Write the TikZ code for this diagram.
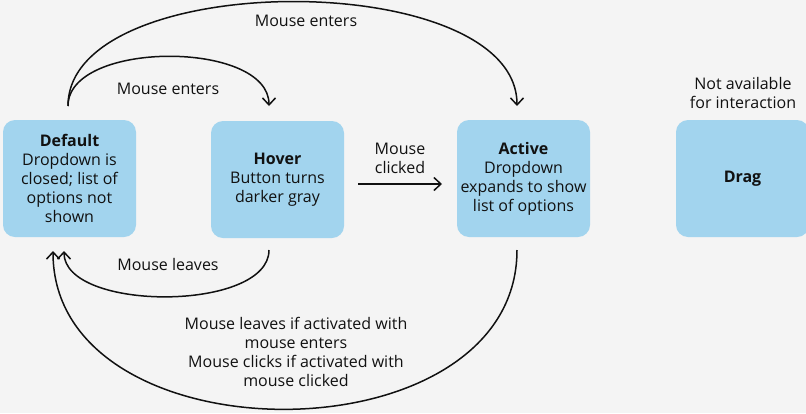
\documentclass[tikz,border=0pt]{standalone}
\usepackage{fontspec}
\setmainfont{Open Sans}
\usetikzlibrary{arrows.meta}
\definecolor{bg}{HTML}{F4F4F4}
\definecolor{boxblue}{HTML}{A2D4EE}
\definecolor{ink}{HTML}{111111}
\begin{document}
\begin{tikzpicture}[x=1pt,y=-1pt,
  state/.style={fill=boxblue, rounded corners=12pt, minimum width=133pt, minimum height=117pt, align=center, inner sep=0pt, text=ink, font=\fontsize{16}{19}\selectfont},
  lbl/.style={align=center, text=ink, font=\fontsize{16}{19}\selectfont, inner sep=0pt},
  conn/.style={draw=ink, line width=1.5pt, -{Straight Barb[length=7pt,width=13pt,line width=1.5pt]}}
]
\useasboundingbox[fill=bg] (0,0) rectangle (806,413);
\node[state] (default) at (69.5,178.5) {\textbf{Default}\\Dropdown is\\closed; list of\\options not\\shown};
\node[state] (hover) at (277.5,179.5) {\textbf{Hover}\\Button turns\\darker gray};
\node[state] (active) at (523.5,178.5) {\textbf{Active}\\Dropdown\\expands to show\\list of options};
\node[state] (drag) at (742.5,178.5) {\textbf{Drag}};
\node[lbl] (na) at (743,93) {Not available\\for interaction};

\coordinate (dtop) at (68,106);
\coordinate (htop) at (269,106);
\coordinate (atop) at (517,106);
\coordinate (hbot) at (269,250);
\coordinate (abot) at (517,250);
\coordinate (dbot1) at (64,251);
\coordinate (dbot2) at (53,251);
\coordinate (hr) at (358,184);
\coordinate (al) at (442,184);

\draw[conn] (dtop) .. controls (68,40) and (269,40) .. (htop);
\draw[conn] (dtop) .. controls (68,-33) and (517,-33) .. (atop);
\draw[conn] (hr) -- (al);
\draw[conn] (hbot) .. controls (269,312) and (64,312) .. (dbot1);
\draw[conn] (abot) .. controls (517,462) and (53,462) .. (dbot2);

\node[lbl] (l1) at (168,89) {Mouse enters};
\node[lbl] (l2) at (306,21) {Mouse enters};
\node[lbl] (l3) at (400,158) {Mouse\\clicked};
\node[lbl] (l4) at (168,264.5) {Mouse leaves};
\node[lbl] (l5) at (296,352) {Mouse leaves if activated with\\mouse enters\\Mouse clicks if activated with\\mouse clicked};
\end{tikzpicture}
\end{document}
